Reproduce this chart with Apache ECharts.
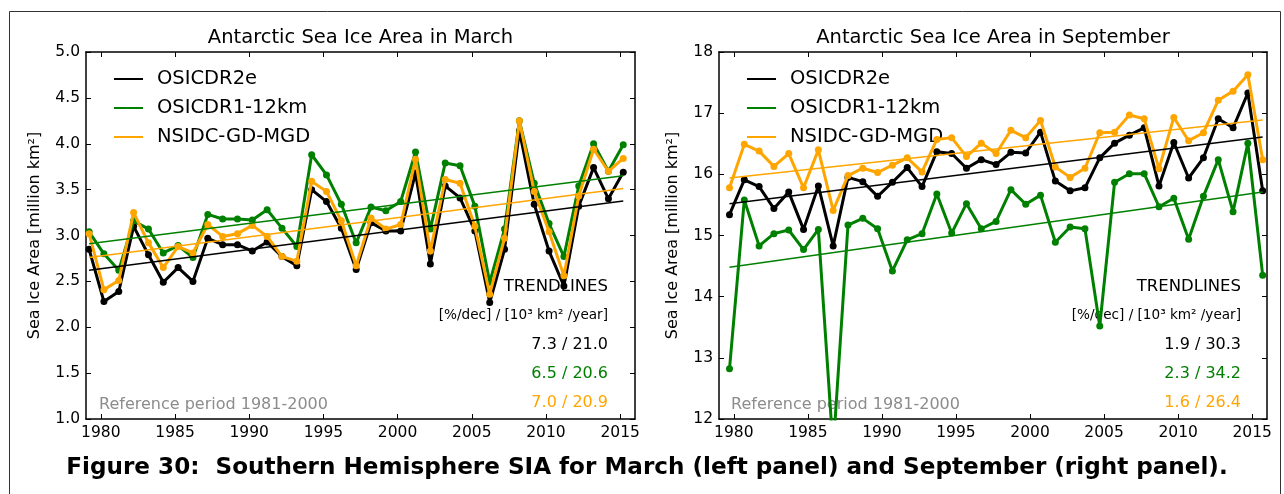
<!DOCTYPE html>
<html><head><meta charset="utf-8">
<script src="https://cdn.jsdelivr.net/npm/echarts@6/dist/echarts.min.js"></script>
<style>html,body{margin:0;padding:0;background:#fff}#c{width:1284px;height:494px}</style>
</head><body><div id="c"></div>
<script>
// ---------------- data ----------------
const years = [1979,1980,1981,1982,1983,1984,1985,1986,1987,1988,1989,1990,1991,1992,1993,1994,1995,1996,1997,1998,1999,2000,2001,2002,2003,2004,2005,2006,2007,2008,2009,2010,2011,2012,2013,2014,2015];
const xTicks = [1980,1985,1990,1995,2000,2005,2010,2015];
const seriesNames = ['OSICDR2e','OSICDR1-12km','NSIDC-GD-MGD'];
const seriesColors = ['#000000','#008000','#FFA500'];

// March (million km2)
const marchOSICDR2e  = [2.85,2.28,2.39,3.10,2.79,2.49,2.65,2.50,2.97,2.90,2.90,2.83,2.93,2.77,2.67,3.50,3.37,3.08,2.63,3.14,3.05,3.05,3.68,2.69,3.54,3.41,3.05,2.27,2.85,4.14,3.34,2.83,2.45,3.32,3.74,3.40,3.69];
const marchOSICDR1   = [3.04,2.80,2.62,3.16,3.07,2.81,2.89,2.76,3.23,3.18,3.18,3.17,3.28,3.08,2.88,3.88,3.66,3.34,2.92,3.31,3.27,3.37,3.91,3.07,3.79,3.76,3.32,2.49,3.07,4.25,3.57,3.13,2.77,3.54,4.00,3.70,3.99];
const marchNSIDC     = [3.02,2.41,2.51,3.25,2.92,2.65,2.88,2.81,3.12,2.99,3.02,3.11,2.99,2.77,2.72,3.59,3.48,3.16,2.67,3.19,3.07,3.12,3.83,2.83,3.61,3.57,3.10,2.36,2.97,4.25,3.48,3.04,2.56,3.43,3.94,3.70,3.84];
// trend line values at first and last year
const marchTrendOSICDR2e = [2.62, 3.376];
const marchTrendOSICDR1  = [2.91, 3.652];
const marchTrendNSIDC    = [2.76, 3.512];
const marchTrendText = ['7.3 / 21.0','6.5 / 20.6','7.0 / 20.9'];

// September (million km2)
const septOSICDR2e = [15.34,15.91,15.80,15.44,15.71,15.10,15.81,14.83,15.95,15.88,15.64,15.87,16.11,15.80,16.37,16.34,16.10,16.24,16.16,16.36,16.35,16.69,15.89,15.73,15.78,16.27,16.51,16.64,16.76,15.81,16.52,15.94,16.27,16.91,16.76,17.33,15.73];
const septOSICDR1  = [12.82,15.58,14.83,15.03,15.09,14.77,15.10,11.50,15.17,15.28,15.11,14.42,14.93,15.03,15.68,15.04,15.52,15.11,15.23,15.75,15.51,15.66,14.89,15.14,15.11,13.52,15.87,16.01,16.01,15.47,15.61,14.94,15.64,16.24,15.39,16.51,14.35];
const septNSIDC    = [15.78,16.49,16.38,16.13,16.34,15.78,16.40,15.41,15.98,16.10,16.03,16.15,16.27,16.04,16.57,16.60,16.29,16.51,16.34,16.72,16.60,16.88,16.12,15.95,16.10,16.68,16.69,16.97,16.91,16.09,16.93,16.55,16.68,17.21,17.36,17.63,16.24];
const septTrendOSICDR2e = [15.52, 16.611];
const septTrendOSICDR1  = [14.48, 15.711];
const septTrendNSIDC    = [15.94, 16.89];
const septTrendText = ['1.9 / 30.3','2.3 / 34.2','1.6 / 26.4'];

const marchTicks = [1.0,1.5,2.0,2.5,3.0,3.5,4.0,4.5,5.0];
const septTicks = [12,13,14,15,16,17,18];

// ---------------- chart ----------------
const FONT = 'DejaVu Sans';
const marchOffset = 2.5/12, septOffset = 8.5/12;
const pts = (vals, off) => years.map((y,i)=>[y+off, vals[i]]);
const trendPts = (ends, off) => [[years[0]+off, ends[0]],[years[years.length-1]+off, ends[1]]];

const chart = echarts.init(document.getElementById('c'), null, {renderer:'canvas'});

function xAxes(g){
  const base = {gridIndex:g, type:'value', min:1979, max:2016, splitLine:{show:false},
    axisLine:{show:true, onZero:false, lineStyle:{color:'#000', width:1.5}}};
  return [
    Object.assign({}, base, {position:'bottom',
      axisTick:{show:true, inside:true, length:5, lineStyle:{color:'#000', width:1}, customValues:xTicks},
      axisLabel:{show:true, customValues:xTicks, formatter:v=>String(v), color:'#000', fontSize:15.5, fontFamily:FONT, margin:6}}),
    Object.assign({}, base, {position:'top',
      axisTick:{show:true, inside:true, length:5, lineStyle:{color:'#000', width:1}, customValues:xTicks},
      axisLabel:{show:false}})
  ];
}
function yAxes(g, min, max, interval, dec, gap){
  const base = {gridIndex:g, type:'value', min, max, interval, splitLine:{show:false},
    axisLine:{show:true, onZero:false, lineStyle:{color:'#000', width:1.5}},
    axisTick:{show:true, inside:true, length:5, lineStyle:{color:'#000', width:1}}};
  return [
    Object.assign({}, base, {position:'left',
      name:'Sea Ice Area [million km²]', nameLocation:'middle', nameRotate:90, nameGap:gap,
      nameTextStyle:{color:'#000', fontSize:16, fontFamily:FONT},
      axisLabel:{show:true, formatter:v=>v.toFixed(dec), color:'#000', fontSize:15.5, fontFamily:FONT, margin:6}}),
    Object.assign({}, base, {position:'right', axisLabel:{show:false}})
  ];
}

const series = [];
function addPanel(g, datasets, trends, off){
  datasets.forEach((d,i)=>{
    series.push({name:seriesNames[i], type:'line', xAxisIndex:2*g, yAxisIndex:2*g,
      data:pts(d, off), symbol:'circle', symbolSize:7, showSymbol:true, clip:true,
      color:seriesColors[i], itemStyle:{color:seriesColors[i]},
      lineStyle:{color:seriesColors[i], width:3}, z:2+i, animation:false, silent:true});
  });
  trends.forEach((t,i)=>{
    series.push({name:seriesNames[i]+' trend', type:'line', xAxisIndex:2*g, yAxisIndex:2*g,
      data:trendPts(t, off), symbol:'none', color:seriesColors[i],
      lineStyle:{color:seriesColors[i], width:1.5}, z:6, animation:false, silent:true});
  });
}
addPanel(0, [marchOSICDR2e, marchOSICDR1, marchNSIDC], [marchTrendOSICDR2e, marchTrendOSICDR1, marchTrendNSIDC], marchOffset);
addPanel(1, [septOSICDR2e, septOSICDR1, septNSIDC], [septTrendOSICDR2e, septTrendOSICDR1, septTrendNSIDC], septOffset);

function legend(left){
  return {left, top:64, orient:'vertical', icon:'rect', itemWidth:29, itemHeight:2, itemGap:9,
    selectedMode:false, data:seriesNames,
    textStyle:{color:'#000', fontSize:19.5, fontFamily:FONT, lineHeight:20, padding:[0,0,0,9]}};
}

function txt(x, y, text, opts){
  return Object.assign({type:'text', x, y, silent:true, style:Object.assign({text, fill:'#000',
    fontSize:16, fontFamily:FONT, align:'left', verticalAlign:'middle',
    textAlign:'left', textVerticalAlign:'middle'}, opts||{})});
}
function R(o){ o.textAlign = o.align; o.textVerticalAlign = o.verticalAlign || 'middle'; return o; }

const graphics = [
  {type:'rect', shape:{x:9.5, y:11.5, width:1271, height:500}, style:{fill:'none', stroke:'#333', lineWidth:1}, silent:true},
  txt(360.5, 38, 'Antarctic Sea Ice Area in March', R({align:'center', fontSize:19.5})),
  txt(993, 38, 'Antarctic Sea Ice Area in September', R({align:'center', fontSize:19.5})),
  txt(647, 468, 'Figure 30:  Southern Hemisphere SIA for March (left panel) and September (right panel).',
      R({align:'center', fontSize:23.1, fontWeight:'bold', fontFamily:'DejaVu Sans'})),
];
[[608, 99, marchTrendText],[1241, 731, septTrendText]].forEach(([rx, lx, tt])=>{
  graphics.push(txt(lx, 405, 'Reference period 1981-2000', R({align:'left', fill:'#8c8c8c', fontSize:16})));
  graphics.push(txt(rx, 287, 'TRENDLINES', R({align:'right', fontSize:16.5})));
  graphics.push(txt(rx, 315.5, '[%/dec] / [10³ km² /year]', R({align:'right', fontSize:13.6})));
  graphics.push(txt(rx, 345, tt[0], R({align:'right', fontSize:16, fill:seriesColors[0]})));
  graphics.push(txt(rx, 374, tt[1], R({align:'right', fontSize:16, fill:seriesColors[1]})));
  graphics.push(txt(rx, 402.5, tt[2], R({align:'right', fontSize:16, fill:seriesColors[2]})));
});

chart.setOption({
  backgroundColor:'#fff',
  animation:false,
  grid:[
    {left:86, top:52, width:549, height:367, containLabel:false},
    {left:719, top:52, width:548, height:367, containLabel:false}
  ],
  xAxis:[...xAxes(0), ...xAxes(1)],
  yAxis:[...yAxes(0, 1, 5, 0.5, 1, 43), ...yAxes(1, 12, 18, 1, 0, 38)],
  legend:[legend(109), legend(742)],
  series,
  graphic:{elements:graphics}
});
</script></body></html>
